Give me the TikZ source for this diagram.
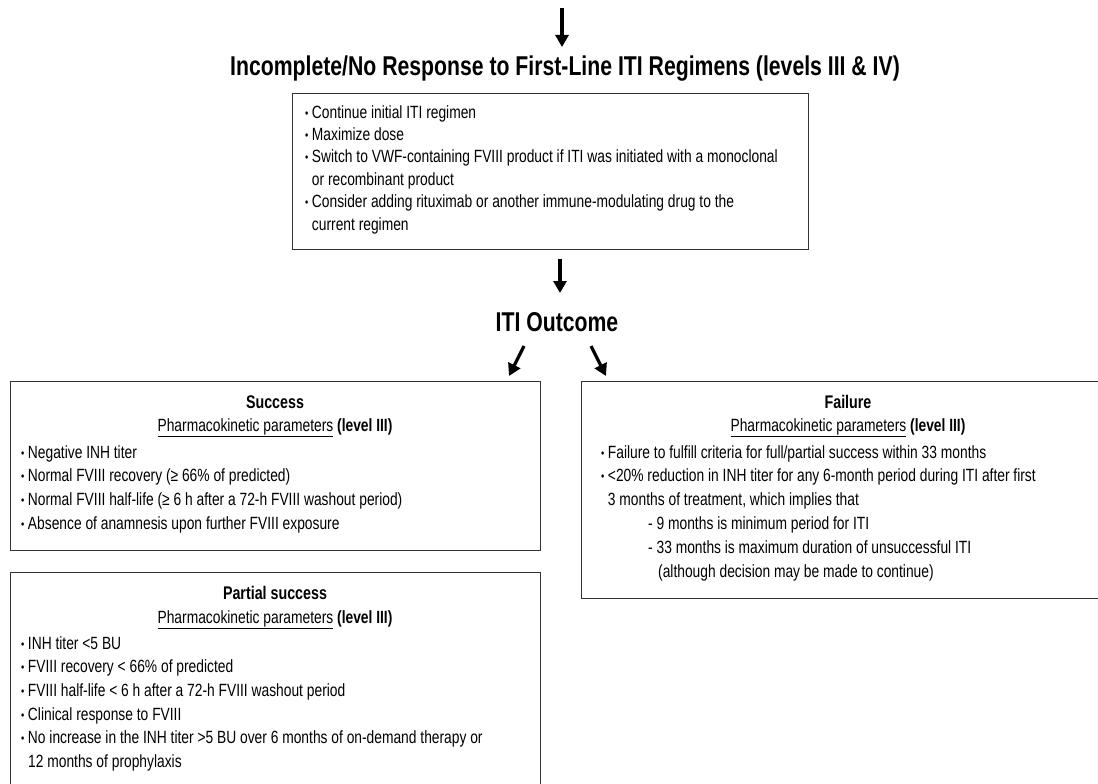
\documentclass[tikz,border=0pt]{standalone}
\usepackage{fontspec}
\setmainfont{Liberation Sans}[FakeStretch=0.78]
\newfontfamily\bfam{Liberation Sans}[FakeStretch=0.78]
\usetikzlibrary{arrows.meta}
\newcommand\mybul{\raisebox{1pt}{\fontsize{12}{12}\selectfont\textbullet}\hspace{3.5pt}}
\newcommand\pkp{\underline{Pharmacokinetic parameters} {\bfam\bfseries(level III)}}
\begin{document}
\begin{tikzpicture}[x=1pt,y=-1pt,
  box/.style={draw=black!80, line width=1.2pt, inner sep=0pt, anchor=north west},
  arr/.style={line width=3.2pt, -{Triangle[length=12pt,width=13pt]}},
  txt/.style={anchor=base west, inner sep=0pt, font=\fontsize{17.7}{20}\selectfont},
  ctr/.style={anchor=base, inner sep=0pt, font=\fontsize{17.7}{20}\selectfont},
  head/.style={anchor=base, inner sep=0pt, font=\bfam\bfseries\fontsize{27.2}{30}\selectfont},
  ttl/.style={anchor=base, inner sep=0pt, font=\bfam\bfseries\fontsize{18.3}{20}\selectfont}]
\useasboundingbox (0,0) rectangle (1098,784);
\clip (0,0) rectangle (1098,784);
\fill[white] (0,0) rectangle (1098,784);

% top arrow and heading
\coordinate (t0) at (562,8);
\coordinate (t1) at (562,47);
\draw[arr] (t0) -- (t1);
\node[head] (h1) at (565,76) {Incomplete/No Response to First-Line ITI Regimens (levels III \& IV)};

% box 1
\node[box, minimum width=516pt, minimum height=156pt] (b1) at (292,93) {};
\foreach \t [count=\i] in {
  {\mybul Continue initial ITI regimen},
  {\mybul Maximize dose},
  {\mybul Switch to VWF-containing FVIII product if ITI was initiated with a monoclonal},
  {\phantom{\mybul}or recombinant product},
  {\mybul Consider adding rituximab or another immune-modulating drug to the},
  {\phantom{\mybul}current regimen}}
  \node[txt] (b1l\i) at (305,{95.6+22.4*\i}) {\t};

% arrow to ITI outcome
\coordinate (m0) at (560,259);
\coordinate (m1) at (560,293);
\draw[arr] (m0) -- (m1);
\node[head] (o) at (557,331) {ITI Outcome};

% diagonal arrows
\coordinate (l0) at (524,346);
\coordinate (l1) at (509,376);
\coordinate (r0) at (591,346);
\coordinate (r1) at (606,376);
\draw[arr] (l0) -- (l1);
\draw[arr] (r0) -- (r1);

% success box
\node[box, minimum width=530pt, minimum height=169pt] (sb) at (10,381) {};
\node[ttl] (st) at (275,408.5) {Success};
\node[ctr] (sp) at (275,431) {\pkp};
\foreach \t [count=\i] in {
  {\mybul Negative INH titer},
  {\mybul Normal FVIII recovery (≥ 66\% of predicted)},
  {\mybul Normal FVIII half-life (≥ 6 h after a 72-h FVIII washout period)},
  {\mybul Absence of anamnesis upon further FVIII exposure}}
  \node[txt] (sl\i) at (21,{434.3+23.7*\i}) {\t};

% partial success box
\node[box, minimum width=530pt, minimum height=220pt] (pb) at (10,572) {};
\node[ttl] (pt) at (275,599.5) {Partial success};
\node[ctr] (pp) at (275,623) {\pkp};
\foreach \t [count=\i] in {
  {\mybul INH titer <5 BU},
  {\mybul FVIII recovery < 66\% of predicted},
  {\mybul FVIII half-life < 6 h after a 72-h FVIII washout period},
  {\mybul Clinical response to FVIII},
  {\mybul No increase in the INH titer >5 BU over 6 months of on-demand therapy or},
  {\hspace{7pt}12 months of prophylaxis}}
  \node[txt] (pl\i) at (21,{625.3+23.7*\i}) {\t};

% failure box
\node[box, minimum width=535pt, minimum height=217pt] (fb) at (581,381) {};
\node[ttl] (ft) at (848,408.5) {Failure};
\node[ctr] (fp) at (848,431) {\pkp};
\foreach \t [count=\i] in {
  {\mybul Failure to fulfill criteria for full/partial success within 33 months},
  {\mybul <20\% reduction in INH titer for any 6-month period during ITI after first},
  {\phantom{\mybul}3 months of treatment, which implies that}}
  \node[txt] (fl\i) at (601,{434.2+23.8*\i}) {\t};
\node[txt] (fd1) at (648,529.4) {- 9 months is minimum period for ITI};
\node[txt] (fd2) at (648,553.2) {- 33 months is maximum duration of unsuccessful ITI};
\node[txt] (fd3) at (658,577) {(although decision may be made to continue)};
\end{tikzpicture}
\end{document}
